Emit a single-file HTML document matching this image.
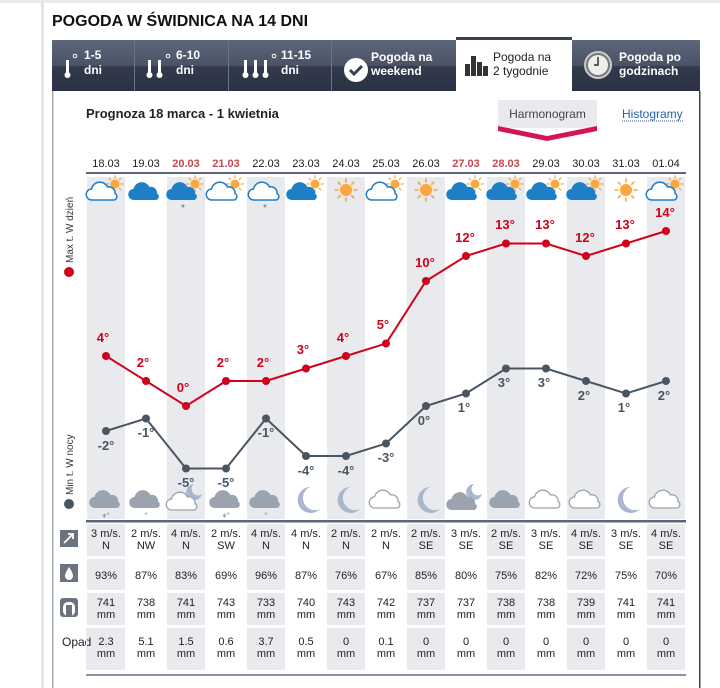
<!DOCTYPE html>
<html><head><meta charset="utf-8"><style>
html,body{margin:0;padding:0;background:#fff;width:720px;height:688px;overflow:hidden}
svg{display:block}
text{font-family:"Liberation Sans",Arial,sans-serif}
</style></head><body>
<svg width="720" height="688" viewBox="0 0 720 688" xmlns="http://www.w3.org/2000/svg">
<defs>
<linearGradient id="tg" x1="0" y1="0" x2="0" y2="1">
<stop offset="0" stop-color="#5d677a"/><stop offset="0.5" stop-color="#4a5366"/><stop offset="0.52" stop-color="#323a4c"/><stop offset="1" stop-color="#2a3142"/>
</linearGradient>
<g id="sun">
<g stroke="#f9a73e" stroke-width="1.6" stroke-linecap="round">
<line x1="0" y1="-11" x2="0" y2="-8"/><line x1="0" y1="11" x2="0" y2="8"/><line x1="-11" y1="0" x2="-8" y2="0"/><line x1="11" y1="0" x2="8" y2="0"/>
<line x1="-7.8" y1="-7.8" x2="-5.7" y2="-5.7"/><line x1="7.8" y1="7.8" x2="5.7" y2="5.7"/><line x1="-7.8" y1="7.8" x2="-5.7" y2="5.7"/><line x1="7.8" y1="-7.8" x2="5.7" y2="-5.7"/>
</g><circle r="6" fill="#f9a73e"/>
</g>
<path id="cl" d="M-11,8 a5.5,5.5 0 0 1 -0.5,-11 a8.5,8.5 0 0 1 16,-2 a6,6 0 0 1 7.5,6.5 a3.5,3.5 0 0 1 -1,6.5 z"/>
</defs>

<rect x="0" y="0" width="720" height="3" fill="#e9ebee"/>
<rect x="41" y="0" width="3" height="688" fill="#e4e6ea"/>
<text x="52" y="26" font-size="16" font-weight="bold" fill="#111">POGODA W ŚWIDNICA NA 14 DNI</text>

<rect x="52" y="40" width="648" height="51" fill="url(#tg)"/>
<g stroke="#6b7486" stroke-width="1"><line x1="134.5" y1="40" x2="134.5" y2="91"/><line x1="228.5" y1="40" x2="228.5" y2="91"/><line x1="331.5" y1="40" x2="331.5" y2="91"/></g>
<rect x="456" y="37" width="116" height="55" fill="#fff"/>
<rect x="456" y="37" width="116" height="3" fill="#3a4252"/>
<g fill="#fff" font-size="12" font-weight="bold">
<text x="84" y="59">1-5</text><text x="84" y="74">dni</text>
<text x="176" y="59">6-10</text><text x="176" y="74">dni</text>
<text x="281" y="59">11-15</text><text x="281" y="74">dni</text>
<text x="371" y="61">Pogoda na</text><text x="371" y="75">weekend</text>
<text x="619" y="61">Pogoda po</text><text x="619" y="75">godzinach</text>
</g>
<text x="493" y="61" font-size="12" fill="#222">Pogoda na</text><text x="493" y="75" font-size="12" fill="#222">2 tygodnie</text>
<g fill="#fff">
<rect x="66" y="60" width="3" height="14"/><circle cx="67.5" cy="75" r="3"/><circle cx="75" cy="56" r="1.8" fill="none" stroke="#fff" stroke-width="1"/>
<rect x="148" y="60" width="3" height="14"/><circle cx="149.5" cy="75" r="3"/><rect x="158" y="60" width="3" height="14"/><circle cx="159.5" cy="75" r="3"/><circle cx="168" cy="56" r="1.8" fill="none" stroke="#fff" stroke-width="1"/>
<rect x="244" y="60" width="3" height="14"/><circle cx="245.5" cy="75" r="3"/><rect x="254" y="60" width="3" height="14"/><circle cx="255.5" cy="75" r="3"/><rect x="264" y="60" width="3" height="14"/><circle cx="265.5" cy="75" r="3"/><circle cx="274" cy="56" r="1.8" fill="none" stroke="#fff" stroke-width="1"/>
<circle cx="356" cy="70" r="12"/>
</g>
<path d="M350,70 l4,4 l8,-8" stroke="#3a4252" stroke-width="3" fill="none"/>
<circle cx="598" cy="65" r="13" fill="#777" stroke="#ccc" stroke-width="2"/><circle cx="598" cy="65" r="10" fill="#eee"/><path d="M598,57 v8 h-4" stroke="#333" stroke-width="1.5" fill="none"/>
<g fill="#333"><rect x="465" y="64" width="5" height="12"/><rect x="471" y="56" width="5" height="20"/><rect x="477" y="62" width="5" height="14"/><rect x="483" y="66" width="5" height="10"/></g>

<rect x="52" y="91" width="1.5" height="597" fill="#a9aeb7"/>
<rect x="699" y="91" width="1.5" height="597" fill="#3a4252"/>
<text x="86" y="118" font-size="13" font-weight="bold" fill="#222">Prognoza 18 marca - 1 kwietnia</text>
<rect x="498" y="100" width="99" height="28" fill="#e8eaee"/>
<text x="547.5" y="118" font-size="12" fill="#444" text-anchor="middle">Harmonogram</text>
<path d="M498,126 L547,136 L597,126 L597,131 L547,141 L498,131 Z" fill="#d4145a"/>
<text x="622" y="118" font-size="12" fill="#2c5ea8">Histogramy</text>
<line x1="622" y1="121" x2="684" y2="121" stroke="#2c5ea8" stroke-dasharray="1,1"/>

<g fill="#e8eaee">
<rect x="87" y="177" width="38" height="342"/><rect x="167" y="177" width="38" height="342"/><rect x="247" y="177" width="38" height="342"/><rect x="327" y="177" width="38" height="342"/><rect x="407" y="177" width="38" height="342"/><rect x="487" y="177" width="38" height="342"/><rect x="567" y="177" width="38" height="342"/><rect x="647" y="177" width="38" height="342"/>
</g>
<g fill="#e8eaee" id="rows">
<rect x="87" y="524" width="38" height="32"/><rect x="87" y="559" width="38" height="31"/><rect x="87" y="593" width="38" height="32"/><rect x="87" y="628" width="38" height="42"/>
</g>
<use href="#rows" x="80"/><use href="#rows" x="160"/><use href="#rows" x="240"/><use href="#rows" x="320"/><use href="#rows" x="400"/><use href="#rows" x="480"/><use href="#rows" x="560"/>
<rect x="86" y="172" width="600" height="2" fill="#5a6578"/>
<rect x="86" y="520" width="600" height="2.5" fill="#5a6578"/>
<rect x="86" y="674" width="600" height="2" fill="#8a93a2"/>

<g font-size="11" text-anchor="middle" fill="#222">
<text x="106" y="167">18.03</text><text x="146" y="167">19.03</text>
<text x="186" y="167" fill="#c9474f" font-weight="bold">20.03</text><text x="226" y="167" fill="#c9474f" font-weight="bold">21.03</text>
<text x="266" y="167">22.03</text><text x="306" y="167">23.03</text><text x="346" y="167">24.03</text><text x="386" y="167">25.03</text><text x="426" y="167">26.03</text>
<text x="466" y="167" fill="#c9474f" font-weight="bold">27.03</text><text x="506" y="167" fill="#c9474f" font-weight="bold">28.03</text>
<text x="546" y="167">29.03</text><text x="586" y="167">30.03</text><text x="626" y="167">31.03</text><text x="666" y="167">01.04</text>
</g>

<g transform="translate(106,190)"><g transform="translate(9,-6) scale(0.75)"><use href="#sun"/></g><use href="#cl" x="-3" y="2" fill="#fff" stroke="#1e7fc7" stroke-width="1.5"/></g>
<g transform="translate(146,190)"><use href="#cl" x="-1" y="2" fill="#1e7fc7"/></g>
<g transform="translate(186,190)"><g transform="translate(9,-6) scale(0.75)"><use href="#sun"/></g><use href="#cl" x="-3" y="2" fill="#1e7fc7"/><text x="-3" y="21" font-size="10" fill="#1e7fc7" text-anchor="middle">*</text></g>
<g transform="translate(226,190)"><g transform="translate(9,-6) scale(0.75)"><use href="#sun"/></g><use href="#cl" x="-3" y="2" fill="#fff" stroke="#1e7fc7" stroke-width="1.5"/></g>
<g transform="translate(266,190)"><use href="#cl" x="-1" y="2" fill="#fff" stroke="#1e7fc7" stroke-width="1.5"/><text x="-1" y="21" font-size="10" fill="#1e7fc7" text-anchor="middle">*</text></g>
<g transform="translate(306,190)"><g transform="translate(9,-6) scale(0.75)"><use href="#sun"/></g><use href="#cl" x="-3" y="2" fill="#1e7fc7"/></g>
<g transform="translate(346,190)"><use href="#sun"/></g>
<g transform="translate(386,190)"><g transform="translate(9,-6) scale(0.75)"><use href="#sun"/></g><use href="#cl" x="-3" y="2" fill="#fff" stroke="#1e7fc7" stroke-width="1.5"/></g>
<g transform="translate(426,190)"><use href="#sun"/></g>
<g transform="translate(466,190)"><g transform="translate(9,-6) scale(0.75)"><use href="#sun"/></g><use href="#cl" x="-3" y="2" fill="#1e7fc7"/></g>
<g transform="translate(506,190)"><g transform="translate(9,-6) scale(0.75)"><use href="#sun"/></g><use href="#cl" x="-3" y="2" fill="#1e7fc7"/></g>
<g transform="translate(546,190)"><g transform="translate(9,-6) scale(0.75)"><use href="#sun"/></g><use href="#cl" x="-3" y="2" fill="#1e7fc7"/></g>
<g transform="translate(586,190)"><g transform="translate(9,-6) scale(0.75)"><use href="#sun"/></g><use href="#cl" x="-3" y="2" fill="#1e7fc7"/></g>
<g transform="translate(626,190)"><use href="#sun"/></g>
<g transform="translate(666,190)"><g transform="translate(9,-6) scale(0.75)"><use href="#sun"/></g><use href="#cl" x="-3" y="2" fill="#fff" stroke="#1e7fc7" stroke-width="1.5"/></g>

<g fill="#9aa3ae">
<g transform="translate(106,500)"><use href="#cl"/><text x="0" y="18" font-size="8" text-anchor="middle">♦*</text></g>
<g transform="translate(146,500)"><use href="#cl"/><text x="0" y="18" font-size="8" text-anchor="middle">*</text></g>
<g transform="translate(186,500)"><path d="M8,-16 a8,8 0 1 0 8,10 a6,6 0 0 1 -8,-10z" fill="#a9b8cf"/><use href="#cl" x="-3" y="2" fill="#fff" stroke="#9aa3ae" stroke-width="1.3"/></g>
<g transform="translate(226,500)"><use href="#cl"/><text x="0" y="18" font-size="8" text-anchor="middle">♦*</text></g>
<g transform="translate(266,500)"><use href="#cl"/><text x="0" y="18" font-size="8" text-anchor="middle">*</text></g>
<g transform="translate(306,500)"><path d="M4,-13 a13,13 0 1 0 10,22 a10,10 0 0 1 -10,-22z" fill="#a9b8cf"/></g>
<g transform="translate(346,500)"><path d="M4,-13 a13,13 0 1 0 10,22 a10,10 0 0 1 -10,-22z" fill="#a9b8cf"/></g>
<g transform="translate(386,500)"><use href="#cl" fill="#fff" stroke="#9aa3ae" stroke-width="1.3"/></g>
<g transform="translate(426,500)"><path d="M4,-13 a13,13 0 1 0 10,22 a10,10 0 0 1 -10,-22z" fill="#a9b8cf"/></g>
<g transform="translate(466,500)"><path d="M8,-16 a8,8 0 1 0 8,10 a6,6 0 0 1 -8,-10z" fill="#a9b8cf"/><use href="#cl" x="-3" y="2"/></g>
<g transform="translate(506,500)"><use href="#cl"/></g>
<g transform="translate(546,500)"><use href="#cl" fill="#fff" stroke="#9aa3ae" stroke-width="1.3"/></g>
<g transform="translate(586,500)"><use href="#cl" fill="#fff" stroke="#9aa3ae" stroke-width="1.3"/></g>
<g transform="translate(626,500)"><path d="M4,-13 a13,13 0 1 0 10,22 a10,10 0 0 1 -10,-22z" fill="#a9b8cf"/></g>
<g transform="translate(666,500)"><use href="#cl" fill="#fff" stroke="#9aa3ae" stroke-width="1.3"/></g>
</g>

<circle cx="69" cy="272" r="5" fill="#d0021b"/>
<text transform="translate(73,263) rotate(-90)" font-size="10" fill="#333">Max t. W dzień</text>
<circle cx="69" cy="504" r="5" fill="#4a5562"/>
<text transform="translate(73,495) rotate(-90)" font-size="10" fill="#333">Min t. W nocy</text>

<polyline fill="none" stroke="#d0021b" stroke-width="2" points="106,356 146,381 186,406 226,381 266,381 306,368.5 346,356 386,343.5 426,281 466,256 506,243.5 546,243.5 586,256 626,243.5 666,231"/>
<g fill="#d0021b">
<circle cx="106" cy="356" r="4"/><circle cx="146" cy="381" r="4"/><circle cx="186" cy="406" r="4"/><circle cx="226" cy="381" r="4"/><circle cx="266" cy="381" r="4"/><circle cx="306" cy="368.5" r="4"/><circle cx="346" cy="356" r="4"/><circle cx="386" cy="343.5" r="4"/><circle cx="426" cy="281" r="4"/><circle cx="466" cy="256" r="4"/><circle cx="506" cy="243.5" r="4"/><circle cx="546" cy="243.5" r="4"/><circle cx="586" cy="256" r="4"/><circle cx="626" cy="243.5" r="4"/><circle cx="666" cy="231" r="4"/>
</g>
<g fill="#d0021b" font-size="13" font-weight="bold" text-anchor="middle">
<text x="103" y="342">4°</text><text x="143" y="367">2°</text><text x="183" y="392">0°</text><text x="223" y="367">2°</text><text x="263" y="367">2°</text><text x="303" y="354">3°</text><text x="343" y="342">4°</text><text x="383" y="329">5°</text><text x="425" y="267">10°</text><text x="465" y="242">12°</text><text x="505" y="229">13°</text><text x="545" y="229">13°</text><text x="585" y="242">12°</text><text x="625" y="229">13°</text><text x="665" y="217">14°</text>
</g>

<polyline fill="none" stroke="#4a5562" stroke-width="2" points="106,431 146,418.5 186,468.5 226,468.5 266,418.5 306,456 346,456 386,443.5 426,406 466,393.5 506,368.5 546,368.5 586,381 626,393.5 666,381"/>
<g fill="#4a5562">
<circle cx="106" cy="431" r="4"/><circle cx="146" cy="418.5" r="4"/><circle cx="186" cy="468.5" r="4"/><circle cx="226" cy="468.5" r="4"/><circle cx="266" cy="418.5" r="4"/><circle cx="306" cy="456" r="4"/><circle cx="346" cy="456" r="4"/><circle cx="386" cy="443.5" r="4"/><circle cx="426" cy="406" r="4"/><circle cx="466" cy="393.5" r="4"/><circle cx="506" cy="368.5" r="4"/><circle cx="546" cy="368.5" r="4"/><circle cx="586" cy="381" r="4"/><circle cx="626" cy="393.5" r="4"/><circle cx="666" cy="381" r="4"/>
</g>
<g fill="#4a5562" font-size="13" font-weight="bold" text-anchor="middle">
<text x="106" y="450">-2°</text><text x="146" y="437">-1°</text><text x="186" y="487">-5°</text><text x="226" y="487">-5°</text><text x="266" y="437">-1°</text><text x="306" y="475">-4°</text><text x="346" y="475">-4°</text><text x="386" y="462">-3°</text><text x="424" y="425">0°</text><text x="464" y="412">1°</text><text x="504" y="387">3°</text><text x="544" y="387">3°</text><text x="584" y="400">2°</text><text x="624" y="412">1°</text><text x="664" y="400">2°</text>
</g>

<rect x="60" y="530" width="18" height="17" fill="#6b7380"/><path d="M64,543 l9,-9 m-5,0 h5 v5" stroke="#fff" stroke-width="1.8" fill="none"/>
<rect x="60" y="564" width="18" height="18" fill="#6b7380"/><path d="M69,567 q-4,6 -4,9 a4,4 0 0 0 8,0 q0,-3 -4,-9z" fill="#fff"/>
<rect x="60" y="598" width="18" height="19" rx="3" fill="#6b7380"/><rect x="63" y="602" width="12" height="14" rx="5" fill="#fff"/><rect x="66" y="605" width="6" height="11" fill="#6b7380"/>
<text x="62" y="646" font-size="12" fill="#222">Opad</text>
<rect x="86" y="628" width="1" height="42" fill="#e8eaee"/>

<g font-size="11" fill="#222" text-anchor="middle">
<text x="106" y="537">3 m/s.</text><text x="106" y="549">N</text>
<text x="146" y="537">2 m/s.</text><text x="146" y="549">NW</text>
<text x="186" y="537">4 m/s.</text><text x="186" y="549">N</text>
<text x="226" y="537">2 m/s.</text><text x="226" y="549">SW</text>
<text x="266" y="537">4 m/s.</text><text x="266" y="549">N</text>
<text x="306" y="537">4 m/s.</text><text x="306" y="549">N</text>
<text x="346" y="537">2 m/s.</text><text x="346" y="549">N</text>
<text x="386" y="537">2 m/s.</text><text x="386" y="549">N</text>
<text x="426" y="537">2 m/s.</text><text x="426" y="549">SE</text>
<text x="466" y="537">3 m/s.</text><text x="466" y="549">SE</text>
<text x="506" y="537">2 m/s.</text><text x="506" y="549">SE</text>
<text x="546" y="537">3 m/s.</text><text x="546" y="549">SE</text>
<text x="586" y="537">4 m/s.</text><text x="586" y="549">SE</text>
<text x="626" y="537">3 m/s.</text><text x="626" y="549">SE</text>
<text x="666" y="537">4 m/s.</text><text x="666" y="549">SE</text>

<text x="106" y="579">93%</text><text x="146" y="579">87%</text><text x="186" y="579">83%</text><text x="226" y="579">69%</text><text x="266" y="579">96%</text><text x="306" y="579">87%</text><text x="346" y="579">76%</text><text x="386" y="579">67%</text><text x="426" y="579">85%</text><text x="466" y="579">80%</text><text x="506" y="579">75%</text><text x="546" y="579">82%</text><text x="586" y="579">72%</text><text x="626" y="579">75%</text><text x="666" y="579">70%</text>

<text x="106" y="606">741</text><text x="146" y="606">738</text><text x="186" y="606">741</text><text x="226" y="606">743</text><text x="266" y="606">733</text><text x="306" y="606">740</text><text x="346" y="606">743</text><text x="386" y="606">742</text><text x="426" y="606">737</text><text x="466" y="606">737</text><text x="506" y="606">738</text><text x="546" y="606">738</text><text x="586" y="606">739</text><text x="626" y="606">741</text><text x="666" y="606">741</text>
<text x="106" y="618">mm</text><text x="146" y="618">mm</text><text x="186" y="618">mm</text><text x="226" y="618">mm</text><text x="266" y="618">mm</text><text x="306" y="618">mm</text><text x="346" y="618">mm</text><text x="386" y="618">mm</text><text x="426" y="618">mm</text><text x="466" y="618">mm</text><text x="506" y="618">mm</text><text x="546" y="618">mm</text><text x="586" y="618">mm</text><text x="626" y="618">mm</text><text x="666" y="618">mm</text>

<text x="106" y="645">2.3</text><text x="146" y="645">5.1</text><text x="186" y="645">1.5</text><text x="226" y="645">0.6</text><text x="266" y="645">3.7</text><text x="306" y="645">0.5</text><text x="346" y="645">0</text><text x="386" y="645">0.1</text><text x="426" y="645">0</text><text x="466" y="645">0</text><text x="506" y="645">0</text><text x="546" y="645">0</text><text x="586" y="645">0</text><text x="626" y="645">0</text><text x="666" y="645">0</text>
<text x="106" y="657">mm</text><text x="146" y="657">mm</text><text x="186" y="657">mm</text><text x="226" y="657">mm</text><text x="266" y="657">mm</text><text x="306" y="657">mm</text><text x="346" y="657">mm</text><text x="386" y="657">mm</text><text x="426" y="657">mm</text><text x="466" y="657">mm</text><text x="506" y="657">mm</text><text x="546" y="657">mm</text><text x="586" y="657">mm</text><text x="626" y="657">mm</text><text x="666" y="657">mm</text>
</g>
</svg>
</body></html>
